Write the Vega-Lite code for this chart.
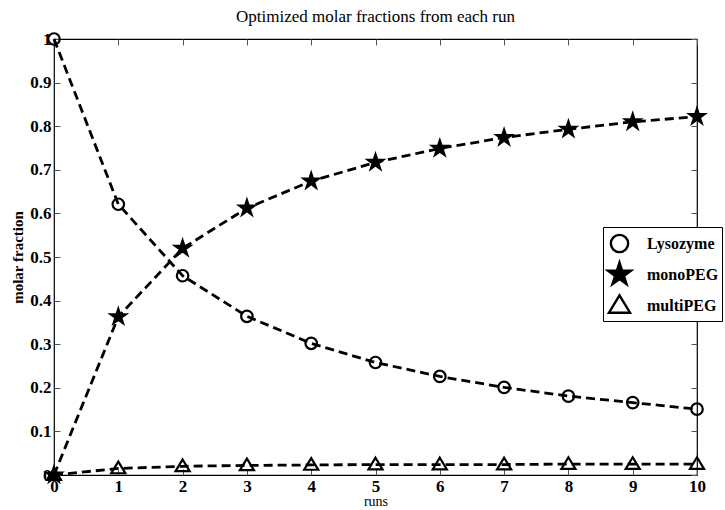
{
  "$schema": "https://vega.github.io/schema/vega-lite/v6.json",
  "width": 643,
  "height": 436,
  "autosize": "none",
  "padding": {"left": 54, "top": 39, "right": 28, "bottom": 35},
  "background": "white",
  "title": {
    "text": "Optimized molar fractions from each run",
    "font": "Liberation Serif",
    "fontSize": 17,
    "fontWeight": "normal",
    "color": "black",
    "anchor": "middle",
    "offset": 3
  },
  "data": {
    "values": [
      {"run": 0, "series": "Lysozyme", "value": 1.0},
      {"run": 1, "series": "Lysozyme", "value": 0.621},
      {"run": 2, "series": "Lysozyme", "value": 0.457},
      {"run": 3, "series": "Lysozyme", "value": 0.364},
      {"run": 4, "series": "Lysozyme", "value": 0.302},
      {"run": 5, "series": "Lysozyme", "value": 0.258},
      {"run": 6, "series": "Lysozyme", "value": 0.226},
      {"run": 7, "series": "Lysozyme", "value": 0.201},
      {"run": 8, "series": "Lysozyme", "value": 0.181},
      {"run": 9, "series": "Lysozyme", "value": 0.166},
      {"run": 10, "series": "Lysozyme", "value": 0.151},
      {"run": 0, "series": "monoPEG", "value": 0.0},
      {"run": 1, "series": "monoPEG", "value": 0.363},
      {"run": 2, "series": "monoPEG", "value": 0.52},
      {"run": 3, "series": "monoPEG", "value": 0.612},
      {"run": 4, "series": "monoPEG", "value": 0.674},
      {"run": 5, "series": "monoPEG", "value": 0.717},
      {"run": 6, "series": "monoPEG", "value": 0.749},
      {"run": 7, "series": "monoPEG", "value": 0.774},
      {"run": 8, "series": "monoPEG", "value": 0.793},
      {"run": 9, "series": "monoPEG", "value": 0.81},
      {"run": 10, "series": "monoPEG", "value": 0.822},
      {"run": 0, "series": "multiPEG", "value": 0.0},
      {"run": 1, "series": "multiPEG", "value": 0.015},
      {"run": 2, "series": "multiPEG", "value": 0.02},
      {"run": 3, "series": "multiPEG", "value": 0.022},
      {"run": 4, "series": "multiPEG", "value": 0.023},
      {"run": 5, "series": "multiPEG", "value": 0.024},
      {"run": 6, "series": "multiPEG", "value": 0.024},
      {"run": 7, "series": "multiPEG", "value": 0.024},
      {"run": 8, "series": "multiPEG", "value": 0.025},
      {"run": 9, "series": "multiPEG", "value": 0.025},
      {"run": 10, "series": "multiPEG", "value": 0.025}
    ]
  },
  "layer": [
    {
      "mark": {"type": "line", "color": "black", "strokeWidth": 2.8, "strokeDash": [9, 5]},
      "encoding": {
        "x": {
          "field": "run", "type": "quantitative",
          "scale": {"domain": [0, 10], "nice": false, "zero": false},
          "axis": {
            "orient": "bottom", "title": "runs", "values": [0,1,2,3,4,5,6,7,8,9,10],
            "grid": false, "tickSize": 6, "offset": -6, "domain": false, "labelPadding": 3,
            "titleFontSize": 14, "titleFontWeight": "normal", "titlePadding": 0
          }
        },
        "y": {
          "field": "value", "type": "quantitative",
          "scale": {"domain": [0, 1], "nice": false},
          "axis": {
            "orient": "left", "title": "molar fraction",
            "values": [0, 0.1, 0.2, 0.3, 0.4, 0.5, 0.6, 0.7, 0.8, 0.9, 1],
            "format": "~g", "grid": false, "tickSize": 6, "offset": -6, "domain": false, "labelPadding": 3,
            "titleFontSize": 15, "titleFontWeight": "bold", "titlePadding": 4
          }
        },
        "detail": {"field": "series"}
      }
    },
    {
      "mark": {"type": "point", "strokeWidth": 2.2, "opacity": 1, "size": 256},
      "encoding": {
        "x": {
          "field": "run", "type": "quantitative",
          "scale": {"domain": [0, 10], "nice": false, "zero": false},
          "axis": {"orient": "top", "title": null, "labels": false, "values": [0,1,2,3,4,5,6,7,8,9,10], "grid": false, "tickSize": 6, "offset": -6, "domain": false}
        },
        "y": {
          "field": "value", "type": "quantitative",
          "scale": {"domain": [0, 1], "nice": false},
          "axis": {"orient": "right", "title": null, "labels": false, "values": [0, 0.1, 0.2, 0.3, 0.4, 0.5, 0.6, 0.7, 0.8, 0.9, 1], "grid": false, "tickSize": 6, "offset": -6, "domain": false}
        },
        "shape": {
          "field": "series", "type": "nominal",
          "scale": {"domain": ["Lysozyme", "monoPEG", "multiPEG"], "range": [
            "M-0.72,0A0.72,0.72 0 1,1 0.72,0A0.72,0.72 0 1,1 -0.72,0Z",
            "M0,-1L0.2245,-0.309L0.951,-0.309L0.363,0.118L0.588,0.809L0,0.382L-0.588,0.809L-0.363,0.118L-0.951,-0.309L-0.2245,-0.309Z",
            "M0,-0.85L0.88,0.6L-0.88,0.6Z"
          ]},
          "legend": {
            "title": null, "orient": "none", "legendX": 549, "legendY": 188,
            "encode": {
              "symbols": {
                "shape": {
                  "condition": [
                    {"test": "datum.value === 'Lysozyme'", "value": "M-1.2,0L-0.72,0M0.72,0L1.2,0M-0.5,0A0.5,0.5 0 1,1 0.5,0A0.5,0.5 0 1,1 -0.5,0Z"},
                    {"test": "datum.value === 'monoPEG'", "value": "M-1.2,0L-0.72,0M0.72,0L1.2,0M0,-0.65L0.146,-0.201L0.618,-0.201L0.236,0.077L0.382,0.526L0,0.248L-0.382,0.526L-0.236,0.077L-0.618,-0.201L-0.146,-0.201Z"}
                  ],
                  "value": "M-1.2,0L-0.72,0M0.72,0L1.2,0M0,-0.55L0.55,0.4L-0.55,0.4Z"
                },
                "stroke": {"value": "black"},
                "strokeWidth": {"value": 2.4}
              }
            }
          }
        },
        "fill": {
          "field": "series", "type": "nominal",
          "scale": {"domain": ["Lysozyme", "monoPEG", "multiPEG"], "range": ["transparent", "black", "transparent"]},
          "legend": {
            "title": null, "orient": "none", "legendX": 549, "legendY": 188,
            "encode": {
              "symbols": {
                "shape": {
                  "condition": [
                    {"test": "datum.value === 'Lysozyme'", "value": "M-1.2,0L-0.72,0M0.72,0L1.2,0M-0.5,0A0.5,0.5 0 1,1 0.5,0A0.5,0.5 0 1,1 -0.5,0Z"},
                    {"test": "datum.value === 'monoPEG'", "value": "M-1.2,0L-0.72,0M0.72,0L1.2,0M0,-0.65L0.146,-0.201L0.618,-0.201L0.236,0.077L0.382,0.526L0,0.248L-0.382,0.526L-0.236,0.077L-0.618,-0.201L-0.146,-0.201Z"}
                  ],
                  "value": "M-1.2,0L-0.72,0M0.72,0L1.2,0M0,-0.55L0.55,0.4L-0.55,0.4Z"
                },
                "stroke": {"value": "black"},
                "strokeWidth": {"value": 2.4}
              }
            }
          }
        },
        "stroke": {
          "field": "series", "type": "nominal",
          "scale": {"domain": ["Lysozyme", "monoPEG", "multiPEG"], "range": ["black", "black", "black"]},
          "legend": {
            "title": null, "orient": "none", "legendX": 549, "legendY": 188,
            "encode": {
              "symbols": {
                "shape": {
                  "condition": [
                    {"test": "datum.value === 'Lysozyme'", "value": "M-1.2,0L-0.72,0M0.72,0L1.2,0M-0.5,0A0.5,0.5 0 1,1 0.5,0A0.5,0.5 0 1,1 -0.5,0Z"},
                    {"test": "datum.value === 'monoPEG'", "value": "M-1.2,0L-0.72,0M0.72,0L1.2,0M0,-0.65L0.146,-0.201L0.618,-0.201L0.236,0.077L0.382,0.526L0,0.248L-0.382,0.526L-0.236,0.077L-0.618,-0.201L-0.146,-0.201Z"}
                  ],
                  "value": "M-1.2,0L-0.72,0M0.72,0L1.2,0M0,-0.55L0.55,0.4L-0.55,0.4Z"
                },
                "stroke": {"value": "black"},
                "strokeWidth": {"value": 2.4}
              }
            }
          }
        }
      }
    }
  ],
  "config": {
    "view": {"stroke": "black", "strokeWidth": 1.2},
    "axis": {
      "labelFont": "Liberation Serif", "labelFontSize": 17, "labelFontWeight": "bold", "labelColor": "black",
      "titleFont": "Liberation Serif", "titleColor": "black",
      "tickColor": "#555", "tickWidth": 1,
      "labelFlush": false, "labelOverlap": false
    },
    "legend": {
      "strokeColor": "black", "fillColor": "white", "padding": 3,
      "labelFont": "Liberation Serif", "labelFontSize": 16, "labelFontWeight": "bold", "labelColor": "black",
      "symbolStrokeColor": "black", "symbolStrokeWidth": 2.4, "symbolSize": 576,
      "rowPadding": 0, "labelOffset": 14, "labelLimit": 200
    }
  }
}
